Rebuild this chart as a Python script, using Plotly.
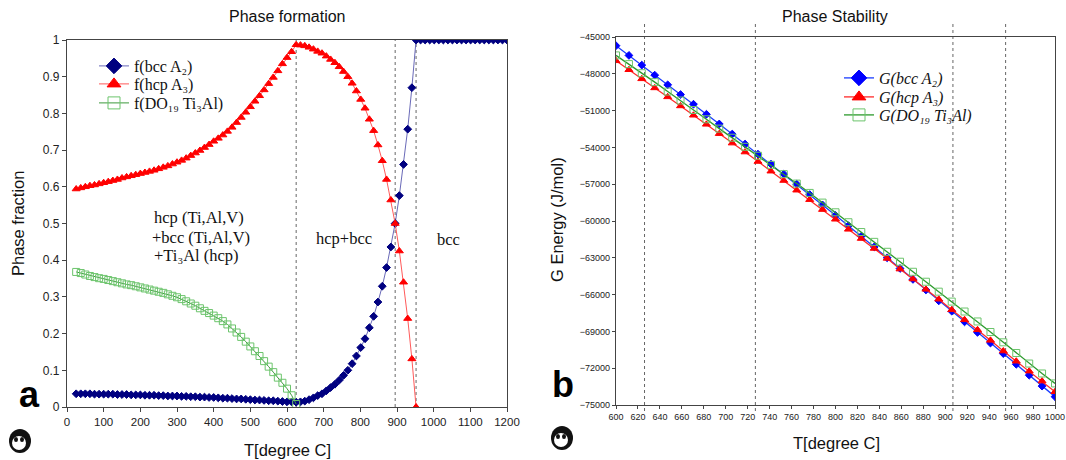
import plotly.graph_objects as go

# ---------------- Panel a: phase fractions ----------------
T_low = [25, 37.5, 50, 62.5, 75, 87.5, 100, 112.5, 125, 137.5, 150, 162.5, 175, 187.5,
         200, 212.5, 225, 237.5, 250, 262.5, 275, 287.5, 300, 312.5, 325, 337.5, 350,
         362.5, 375, 387.5, 400, 412.5, 425, 437.5, 450, 462.5, 475, 487.5, 500, 512.5,
         525, 537.5, 550, 562.5, 575, 587.5, 600, 612.5, 625]
T_mid = [636.7, 648.5, 660.2, 672.0, 683.7, 695.4, 707.2, 718.9, 730.7, 742.4, 754.1,
         765.9, 777.6, 789.3, 801.1, 812.8, 824.6, 836.3, 848.0, 859.8, 871.5, 883.3, 895.0]
T_high = [906.4, 917.8, 929.2, 940.6, 952.0]
T_bcc = [964.4, 976.8, 989.2, 1001.6, 1014, 1026.4, 1038.8, 1051.2, 1063.6, 1076,
         1088.4, 1100.8, 1113.2, 1125.6, 1138, 1150.4, 1162.8, 1175.2, 1187.6, 1200]

hcp_low = [0.594, 0.597, 0.600, 0.603, 0.605, 0.608, 0.611, 0.614, 0.617, 0.620, 0.624,
           0.627, 0.630, 0.633, 0.636, 0.639, 0.642, 0.645, 0.649, 0.653, 0.657, 0.662,
           0.667, 0.672, 0.678, 0.685, 0.692, 0.699, 0.707, 0.715, 0.724, 0.732, 0.741,
           0.751, 0.762, 0.775, 0.789, 0.803, 0.818, 0.833, 0.848, 0.864, 0.881, 0.898,
           0.916, 0.935, 0.952, 0.968, 0.987]
hcp_mid = [0.986, 0.984, 0.980, 0.975, 0.969, 0.964, 0.956, 0.947, 0.938, 0.927, 0.914,
           0.900, 0.882, 0.861, 0.838, 0.814, 0.784, 0.753, 0.714, 0.671, 0.620, 0.564, 0.500]
hcp_high = [0.425, 0.340, 0.241, 0.131, 0.0]

bcc_low = [0.036, 0.036, 0.036, 0.036, 0.035, 0.035, 0.035, 0.035, 0.035, 0.034, 0.034,
           0.034, 0.033, 0.033, 0.033, 0.032, 0.032, 0.032, 0.031, 0.031, 0.030, 0.030,
           0.030, 0.029, 0.029, 0.028, 0.028, 0.027, 0.027, 0.026, 0.026, 0.025, 0.024,
           0.024, 0.023, 0.022, 0.022, 0.021, 0.020, 0.019, 0.019, 0.018, 0.017, 0.017,
           0.016, 0.015, 0.014, 0.014, 0.013]
bcc_mid = [0.014, 0.016, 0.020, 0.025, 0.031, 0.036, 0.044, 0.053, 0.062, 0.073, 0.086,
           0.100, 0.118, 0.139, 0.162, 0.186, 0.216, 0.247, 0.286, 0.329, 0.380, 0.436, 0.500]
bcc_high = [0.576, 0.661, 0.757, 0.870, 1.0]
bcc_top = [1.0, 1.0, 1.0, 1.0, 1.0, 1.0, 1.0, 1.0, 1.0, 1.0,
           1.0, 1.0, 1.0, 1.0, 1.0, 1.0, 1.0, 1.0, 1.0, 1.0]

ti3al_low = [0.368, 0.365, 0.361, 0.357, 0.354, 0.351, 0.349, 0.346, 0.343, 0.340, 0.337,
             0.334, 0.332, 0.329, 0.326, 0.323, 0.320, 0.317, 0.314, 0.311, 0.307, 0.303,
             0.299, 0.294, 0.288, 0.282, 0.276, 0.269, 0.262, 0.256, 0.249, 0.242, 0.234,
             0.225, 0.214, 0.203, 0.191, 0.178, 0.165, 0.152, 0.139, 0.125, 0.110, 0.095,
             0.080, 0.066, 0.050, 0.032, 0.008]

a_vlines = [625, 895, 952]

# ---------------- Panel b: Gibbs energies ----------------
T_g = [600, 611.8, 623.5, 635.3, 647.1, 658.8, 670.6, 682.4, 694.1, 705.9, 717.6, 729.4,
       741.2, 752.9, 764.7, 776.5, 788.2, 800, 811.8, 823.5, 835.3, 847.1, 858.8, 870.6,
       882.4, 894.1, 905.9, 917.6, 929.4, 941.2, 952.9, 964.7, 976.5, 988.2, 1000]
G_bcc = [-45710, -46500, -47290, -48110, -48900, -49690, -50480, -51300, -52090, -52910,
         -53730, -54550, -55360, -56180, -57000, -57850, -58690, -59540, -60380, -61240,
         -62110, -63000, -63870, -64760, -65620, -66510, -67350, -68220, -69080, -69950,
         -70810, -71680, -72570, -73460, -74320]
G_hcp = [-46940, -47670, -48410, -49150, -49880, -50620, -51380, -52120, -52880, -53650,
         -54380, -55150, -55940, -56700, -57490, -58260, -59070, -59860, -60680, -61430,
         -62240, -63050, -63920, -64730, -65570, -66380, -67240, -68050, -68870, -69730,
         -70600, -71430, -72240, -73050, -73920]
G_do19 = [-46500, -47210, -47950, -48680, -49450, -50180, -50950, -51710, -52470, -53210,
          -53950, -54680, -55420, -56180, -56950, -57710, -58500, -59290, -60100, -60900,
          -61700, -62510, -63320, -64140, -64950, -65760, -66570, -67380, -68190, -69050,
          -69890, -70760, -71620, -72430, -73240]
b_vlines = [626, 727, 907, 955]

names_a = ["f(bcc A₂)", "f(hcp A₃)", "f(DO₁₉ Ti₃Al)"]
names_b = ["G(bcc A₂)", "G(hcp A₃)", "G(DO₁₉ Ti₃Al)"]

SANS = "Liberation Sans, Arial, sans-serif"
SERIF = "Liberation Serif, Times New Roman, serif"
NARROW = "Liberation Sans Narrow, Liberation Sans, Arial, sans-serif"

# styles: (line colour, line width, marker symbol, marker size, marker colour)
sty_a = [("#6a6ab8", 1, "diamond", 6, "#000080"),
         ("#ff5a5a", 1, "triangle-up", 7, "#ff0000"),
         ("#3c9a3c", 1, "square-open", 7, "#6cc46c")]
sty_b = [("#1a3cff", 1.3, "diamond", 6, "#0000ff"),
         ("#ff2a2a", 1.3, "triangle-up", 7, "#ff0000"),
         ("#2c9a2c", 1.3, "square-open", 7, "#6cc46c")]

series_a = [(T_low + T_mid + T_high + T_bcc, bcc_low + bcc_mid + bcc_high + bcc_top),
            (T_low + T_mid + T_high, hcp_low + hcp_mid + hcp_high),
            (T_low, ti3al_low)]
series_b = [(T_g, G_bcc), (T_g, G_hcp), (T_g, G_do19)]

legends_a = ["legend", "legend2", "legend3"]
legends_b = ["legend4", "legend5", "legend6"]

fig = go.Figure()


def add_series(series, styles, names, xa, ya, legs):
    for (xs, ys), (lc, lw, sym, ms, mc), nm, leg in zip(series, styles, names, legs):
        mline = dict(width=1, color=mc)
        fig.add_trace(go.Scatter(
            x=xs, y=ys, mode="lines+markers", name=nm, showlegend=False,
            line=dict(color=lc, width=lw),
            marker=dict(symbol=sym, size=ms, color=mc, line=mline),
            xaxis=xa, yaxis=ya))
        # legend entry with enlarged symbol, as in the original figure
        fig.add_trace(go.Scatter(
            x=[None], y=[None], mode="lines+markers", name=nm, legend=leg,
            line=dict(color=lc, width=lw),
            marker=dict(symbol=sym, size=12, color=mc, line=mline),
            xaxis=xa, yaxis=ya))


add_series(series_a, sty_a, names_a, "x", "y", legends_a)
add_series(series_b, sty_b, names_b, "x2", "y2", legends_b)


def px(x):
    return x / 1066


def py(y):
    return 1 - y / 460


shapes = []
for v in a_vlines:
    shapes.append(dict(type="line", xref="x", yref="y", x0=v, x1=v, y0=0, y1=1,
                       line=dict(color="#666", width=1, dash="dot"), layer="below"))
for v in b_vlines:
    shapes.append(dict(type="line", xref="x2", yref="paper", x0=v, x1=v,
                       y0=py(411), y1=py(24),
                       line=dict(color="#666", width=1, dash="dot"), layer="below"))

# simple panda badges (decorative)
for cx, cy in [(20, 441), (562, 438)]:
    shapes.append(dict(type="circle", xref="paper", yref="paper",
                       x0=px(cx - 11), x1=px(cx + 11), y0=py(cy + 12), y1=py(cy - 12),
                       fillcolor="#111", line=dict(width=0)))
    shapes.append(dict(type="circle", xref="paper", yref="paper",
                       x0=px(cx - 8), x1=px(cx + 6), y0=py(cy + 9), y1=py(cy - 5),
                       fillcolor="#fff", line=dict(width=0)))
    for ex in (-4, 2):
        shapes.append(dict(type="circle", xref="paper", yref="paper",
                           x0=px(cx + ex - 2), x1=px(cx + ex + 2),
                           y0=py(cy + 1), y1=py(cy - 4),
                           fillcolor="#111", line=dict(width=0)))

annotations = [
    dict(text="Phase formation", x=px(287), y=py(16), font=dict(family=SANS, size=16, color="#111")),
    dict(text="Phase Stability", x=px(835), y=py(16), font=dict(family=SANS, size=16, color="#111")),
    dict(text="Phase fraction", x=px(18), y=py(224), textangle=-90,
         font=dict(family=SANS, size=16.5, color="#111")),
    dict(text="T[degree C]", x=px(287), y=py(450), font=dict(family=SANS, size=16.5, color="#111")),
    dict(text="G Energy (J/mol)", x=px(557), y=py(220), textangle=-90,
         font=dict(family=SANS, size=16.5, color="#111")),
    dict(text="T[degree C]", x=px(836), y=py(443), font=dict(family=SANS, size=16.5, color="#111")),
    dict(text="<b>a</b>", x=px(29), y=py(394), font=dict(family=SANS, size=36, color="#000")),
    dict(text="<b>b</b>", x=px(563), y=py(384), font=dict(family=SANS, size=36, color="#000")),
    dict(text="hcp (Ti,Al,V)", x=px(152), y=py(218), xanchor="left",
         font=dict(family=SERIF, size=16.5, color="#111")),
    dict(text="+bcc (Ti,Al,V)", x=px(150), y=py(237), xanchor="left",
         font=dict(family=SERIF, size=16.5, color="#111")),
    dict(text="+Ti₃Al (hcp)", x=px(152), y=py(255), xanchor="left",
         font=dict(family=SERIF, size=16.5, color="#111")),
    dict(text="hcp+bcc", x=px(344), y=py(238), font=dict(family=SERIF, size=16.5, color="#111")),
    dict(text="bcc", x=px(448), y=py(239), font=dict(family=SERIF, size=16.5, color="#111")),
]
for a in annotations:
    a.setdefault("xref", "paper")
    a.setdefault("yref", "paper")
    a.setdefault("showarrow", False)
    a.setdefault("xanchor", "center")
    a.setdefault("yanchor", "middle")

axis_common = dict(showline=True, linecolor="#444", linewidth=1.2, mirror=True,
                   ticks="outside", tickcolor="#444", showgrid=False, zeroline=False,
                   automargin=False)

legend_layout = {}
# left legend rows centred near y = 66, 84, 103 px; right legend rows near 78, 97, 115 px
for leg, row in zip(legends_a, [66, 84, 103]):
    legend_layout[leg] = dict(x=px(94), y=py(row - 17), xanchor="left", yanchor="top",
                              bgcolor="rgba(0,0,0,0)",
                              font=dict(family=SERIF, size=16, color="#111"))
for leg, row in zip(legends_b, [78, 97, 115]):
    legend_layout[leg] = dict(x=px(839), y=py(row - 17), xanchor="left", yanchor="top",
                              bgcolor="rgba(0,0,0,0)",
                              font=dict(family=SERIF, size=16, color="#111", style="italic"))

fig.update_layout(
    width=1066, height=460, autosize=False,
    margin=dict(l=0, r=0, t=0, b=0, pad=0, autoexpand=False),
    paper_bgcolor="white", plot_bgcolor="white",
    shapes=shapes, annotations=annotations,
    xaxis=dict(domain=[px(67), px(507)], range=[0, 1200], dtick=100, tick0=0, anchor="y",
               ticklen=4, tickfont=dict(family=SANS, size=11.5, color="#222"), **axis_common),
    yaxis=dict(domain=[py(407), py(40)], range=[0, 1], dtick=0.1, tick0=0, anchor="x",
               ticklen=4, tickfont=dict(family=SANS, size=12, color="#222"), **axis_common),
    xaxis2=dict(domain=[px(616), px(1055)], range=[600, 1000], dtick=20, tick0=600,
                anchor="y2", ticklen=3,
                tickfont=dict(family=NARROW, size=9, color="#222"), **axis_common),
    yaxis2=dict(domain=[py(405), py(37)], range=[-75000, -45000], dtick=3000,
                tick0=-75000, anchor="x2", ticklen=3, tickformat="d",
                tickfont=dict(family=NARROW, size=9, color="#222"), **axis_common),
    showlegend=True,
    **legend_layout,
)

fig.write_html("out.html", config={"displayModeBar": False},
               post_script="document.body.style.margin='0';")
